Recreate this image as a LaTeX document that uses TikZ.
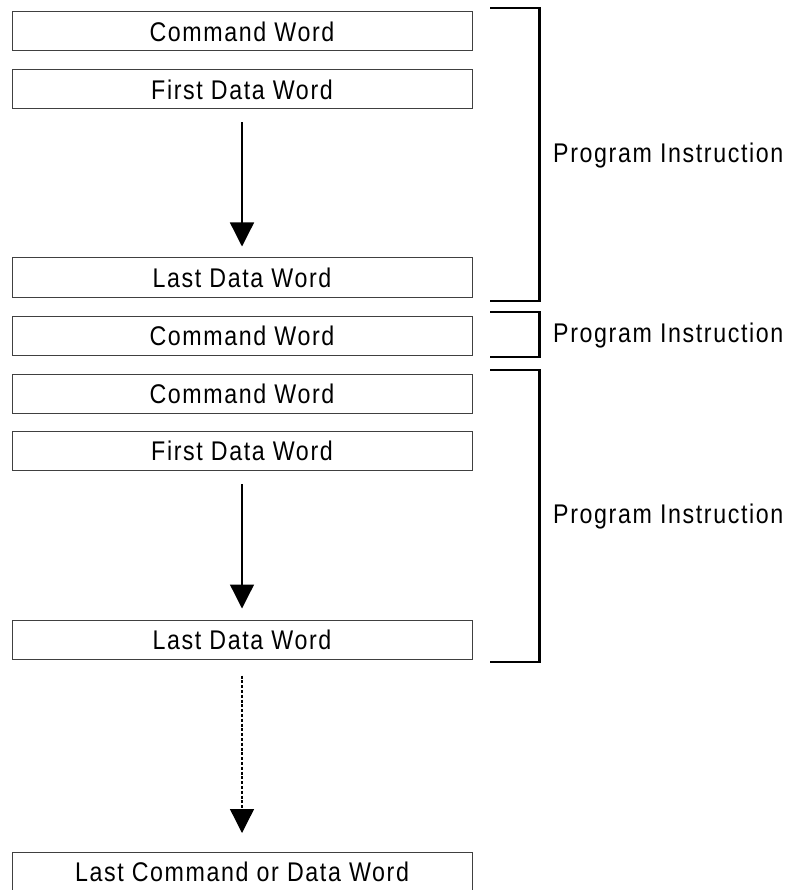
\documentclass[tikz,border=0pt]{standalone}
\usepackage{fontspec}
\setmainfont{Liberation Sans}[FakeStretch=0.86,LetterSpace=6]
\usetikzlibrary{arrows.meta}
\tikzset{
  wordbox/.style={draw=black!75, line width=1pt, minimum width=460pt, minimum height=39pt,
    inner sep=0pt, font=\fontsize{27}{31}\selectfont},
  flow/.style={line width=1.3pt, -{Triangle[width=24pt,length=24pt]}},
  dotflow/.style={flow, dash pattern=on 3pt off 1.8pt},
  brk/.style={line width=2.2pt},
  brkv/.style={line width=3.2pt},
  lbl/.style={anchor=west, inner sep=0pt, font=\fontsize{27}{31}\selectfont}
}
\begin{document}
\begin{tikzpicture}[x=1pt,y=-1pt]
\useasboundingbox (0,0) rectangle (786,890);
% boxes
\node[wordbox] (b1) at (242,31.5) {Command Word};
\node[wordbox] (b2) at (242,89.5) {First Data Word};
\node[wordbox] (b3) at (242,277.5) {Last Data Word};
\node[wordbox] (b4) at (242,335.5) {Command Word};
\node[wordbox] (b5) at (242,393.5) {Command Word};
\node[wordbox] (b6) at (242,451) {First Data Word};
\node[wordbox] (b7) at (242,639.5) {Last Data Word};
\node[wordbox] (b8) at (242,872) {Last Command or Data Word};
% arrows
\draw[flow, shorten <=13pt, shorten >=11pt] (b2.south) -- (b3.north);
\draw[flow, shorten <=13pt, shorten >=11pt] (b6.south) -- (b7.north);
\draw[dotflow, shorten <=16pt, shorten >=19pt] (b7.south) -- (b8.north);
% brackets
\coordinate (t1) at (539.5,8);   \coordinate (u1) at (539.5,301);
\coordinate (t2) at (539.5,312); \coordinate (u2) at (539.5,357);
\coordinate (t3) at (539.5,370); \coordinate (u3) at (539.5,662);
\foreach \t/\u in {t1/u1,t2/u2,t3/u3}{
  \draw[brk] ([xshift=-49.5pt]\t) -- ([xshift=1pt]\t);
  \draw[brk] ([xshift=-49.5pt]\u) -- ([xshift=1pt]\u);
  \draw[brkv] ([yshift=-1pt]\t) -- ([yshift=1pt]\u);
}
% labels
\node[lbl] (p1) at (553,156) {Program Instruction};
\node[lbl] (p2) at (553,336) {Program Instruction};
\node[lbl] (p3) at (553,517) {Program Instruction};
\end{tikzpicture}
\end{document}
